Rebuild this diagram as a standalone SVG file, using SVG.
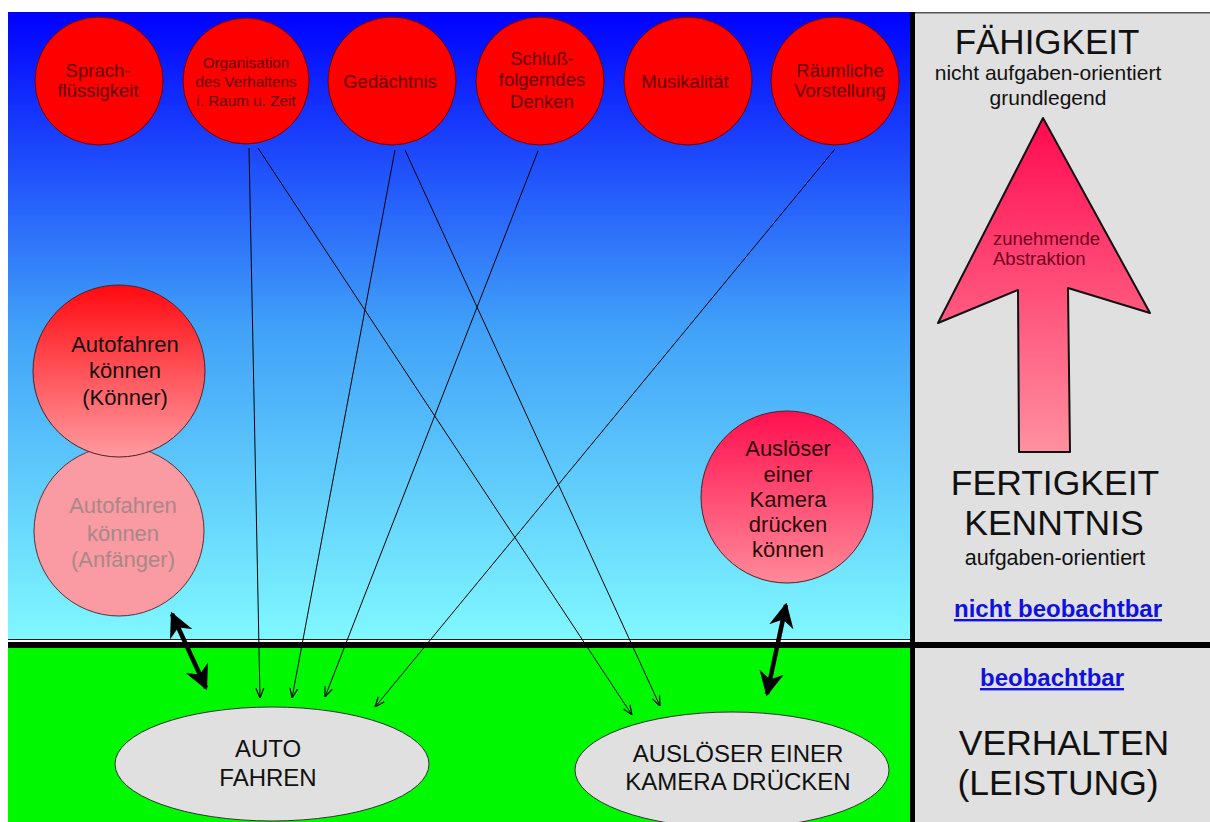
<svg xmlns="http://www.w3.org/2000/svg" width="1210" height="822" viewBox="0 0 1210 822">
<defs>
<linearGradient id="sky" x1="0" y1="0" x2="0" y2="1">
<stop offset="0" stop-color="#0000ff"/>
<stop offset="0.5" stop-color="#40a0f8"/>
<stop offset="1" stop-color="#80f8ff"/>
</linearGradient>
<linearGradient id="redgrad" x1="0" y1="0" x2="0" y2="1">
<stop offset="0" stop-color="#ff0a10"/>
<stop offset="1" stop-color="#ff9aa0"/>
</linearGradient>
<linearGradient id="crimson" x1="0" y1="0" x2="0" y2="1">
<stop offset="0" stop-color="#ff1050"/>
<stop offset="1" stop-color="#ff8a98"/>
</linearGradient>
<linearGradient id="arrowgrad" x1="0" y1="0" x2="0" y2="1">
<stop offset="0" stop-color="#ff0a50"/>
<stop offset="1" stop-color="#ff90a0"/>
</linearGradient>
<marker id="thin" viewBox="0 0 10 10" refX="10" refY="5" markerWidth="10" markerHeight="10" markerUnits="userSpaceOnUse" orient="auto">
<path d="M0,1 L10,5 L0,9" fill="none" stroke="#000" stroke-width="1.2"/>
</marker>
<marker id="thick" viewBox="0 0 10 10" refX="9" refY="5" markerWidth="5.5" markerHeight="5.5" orient="auto-start-reverse">
<path d="M0,0 L10,5 L0,10 L3,5 Z" fill="#000"/>
</marker>
</defs>
<style>
.top circle{fill:#ff0000;stroke:#700000;stroke-width:1}
.ct{font-family:"Liberation Sans",Arial,sans-serif;fill:#600000;text-anchor:middle}
.t{font-family:"Liberation Sans",Arial,sans-serif;text-anchor:middle;fill:#111}
.link{font-family:"Liberation Sans",Arial,sans-serif;text-anchor:middle;fill:#1010e0;font-weight:bold;text-decoration:underline}
.conn line{stroke:#000;stroke-width:1;marker-end:url(#thin)}
.dbl{stroke:#000;stroke-width:4.5;marker-start:url(#thick);marker-end:url(#thick)}
</style>
<rect x="0" y="0" width="1210" height="822" fill="#ffffff"/>
<rect x="8" y="12" width="903" height="627" fill="url(#sky)"/>
<rect x="8" y="639" width="903" height="1" fill="#222"/>
<rect x="8" y="648" width="903" height="174" fill="#00f800"/>
<rect x="915" y="12" width="295" height="810" fill="#e0e0e0"/>
<rect x="915" y="12" width="295" height="1.5" fill="#555"/>
<rect x="8" y="642" width="1202" height="6" fill="#000"/>
<rect x="910" y="12" width="5" height="810" fill="#000"/>

<g id="n-sprach" class="top"><circle cx="99" cy="81" r="64"/><text class="ct" font-size="18.5"><tspan x="98" y="77">Sprach-</tspan><tspan x="98" y="97">flüssigkeit</tspan></text></g>
<g id="n-organisation" class="top"><circle cx="246" cy="81" r="63"/><text class="ct" font-size="15.3"><tspan x="246" y="68">Organisation</tspan><tspan x="246" y="87">des Verhaltens</tspan><tspan x="246" y="106">i. Raum u. Zeit</tspan></text></g>
<g id="n-gedaechtnis" class="top"><circle cx="392" cy="81" r="64"/><text class="ct" font-size="18.5"><tspan x="390" y="88">Gedächtnis</tspan></text></g>
<g id="n-schluss" class="top"><circle cx="540" cy="81" r="64"/><text class="ct" font-size="18.5"><tspan x="542" y="65">Schluß-</tspan><tspan x="542" y="86">folgerndes</tspan><tspan x="542" y="108">Denken</tspan></text></g>
<g id="n-musik" class="top"><circle cx="688" cy="81" r="64"/><text class="ct" font-size="18.5"><tspan x="685" y="88">Musikalität</tspan></text></g>
<g id="n-raum" class="top"><circle cx="835" cy="81" r="64"/><text class="ct" font-size="18.5"><tspan x="840" y="77">Räumliche</tspan><tspan x="840" y="97">Vorstellung</tspan></text></g>

<g id="n-anfaenger"><circle cx="119" cy="531" r="85" fill="#fa9aa2" stroke="#603030" stroke-width="1"/><text class="t" font-size="22" style="fill:#a88888"><tspan x="123" y="513">Autofahren</tspan><tspan x="123" y="541">können</tspan><tspan x="123" y="567">(Anfänger)</tspan></text></g>
<g id="n-koenner"><circle cx="119" cy="371" r="86" fill="url(#redgrad)" stroke="#502020" stroke-width="1"/><text class="t" font-size="22"><tspan x="125" y="352">Autofahren</tspan><tspan x="125" y="378">können</tspan><tspan x="125" y="405">(Könner)</tspan></text></g>
<g id="n-ausloeser-koennen"><circle cx="787" cy="497" r="86" fill="url(#crimson)" stroke="#502020" stroke-width="1"/><text class="t" font-size="22" style="fill:#2a0a0a"><tspan x="788" y="456">Auslöser</tspan><tspan x="788" y="482">einer</tspan><tspan x="788" y="507">Kamera</tspan><tspan x="788" y="532">drücken</tspan><tspan x="788" y="557">können</tspan></text></g>

<g id="n-autofahren"><ellipse cx="272" cy="764" rx="157" ry="57" fill="#e0e0e0" stroke="#333" stroke-width="1"/><text class="t" font-size="24"><tspan x="268" y="757">AUTO</tspan><tspan x="268" y="786">FAHREN</tspan></text></g>
<g id="n-ausloesen"><ellipse cx="732" cy="770" rx="157" ry="58" fill="#e0e0e0" stroke="#333" stroke-width="1"/><text class="t" font-size="24"><tspan x="738" y="762">AUSLÖSER EINER</tspan><tspan x="738" y="790">KAMERA DRÜCKEN</tspan></text></g>

<g id="connectors">
<g class="conn">
<line x1="249" y1="148" x2="260" y2="698"/>
<line x1="258" y1="148" x2="632" y2="715"/>
<line x1="395" y1="150" x2="292" y2="698"/>
<line x1="405" y1="150" x2="660" y2="706"/>
<line x1="538" y1="151" x2="325" y2="697"/>
<line x1="835" y1="149" x2="375" y2="707"/>
</g>
<line class="dbl" x1="172" y1="614" x2="206" y2="688"/>
<line class="dbl" x1="786" y1="605" x2="767" y2="694"/>
</g>

<g id="panel">
<text class="t" font-size="35" x="1047" y="54">FÄHIGKEIT</text>
<text class="t" font-size="21" x="1048" y="80">nicht aufgaben-orientiert</text>
<text class="t" font-size="21" x="1048" y="105">grundlegend</text>
<g id="abstraktion">
<path d="M1043,118 L1150,313 L1068,288 L1070,452 L1019,452 L1018,290 L938,323 Z" fill="url(#arrowgrad)" stroke="#111" stroke-width="2" stroke-linejoin="round"/>
<text font-family="Liberation Sans, Arial, sans-serif" font-size="18.5" fill="#700020"><tspan x="993" y="245">zunehmende</tspan><tspan x="993" y="265">Abstraktion</tspan></text>
</g>
<text class="t" font-size="35.5" x="1055" y="495">FERTIGKEIT</text>
<text class="t" font-size="35.5" x="1054" y="535">KENNTNIS</text>
<text class="t" font-size="21.5" x="1055" y="565">aufgaben-orientiert</text>
<text class="link" font-size="24" x="1058" y="617">nicht beobachtbar</text>
<text class="link" font-size="24" x="1052" y="686">beobachtbar</text>
<text class="t" font-size="35.5" x="1064" y="755">VERHALTEN</text>
<text class="t" font-size="35.5" x="1058" y="795">(LEISTUNG)</text>
</g>
</svg>
